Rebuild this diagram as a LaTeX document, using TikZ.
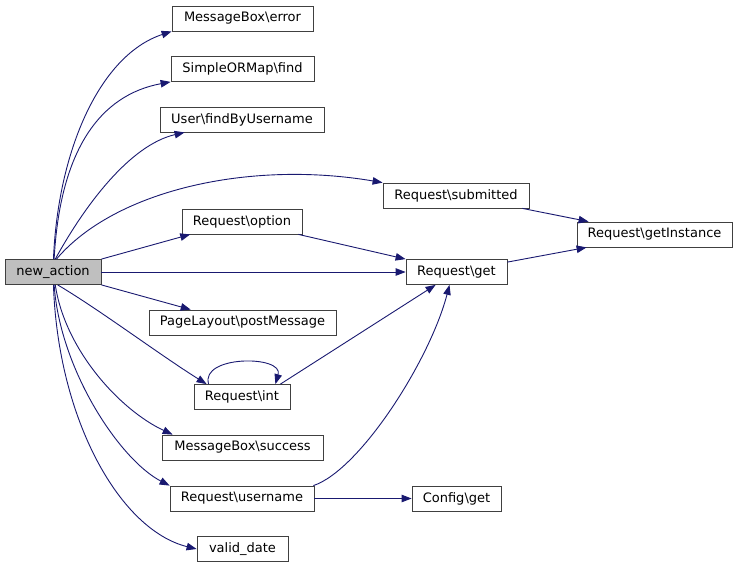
\documentclass[tikz,border=0pt]{standalone}
\usepackage{fontspec}
\setmainfont{DejaVu Sans}
\usetikzlibrary{arrows.meta}

\definecolor{callblue}{HTML}{191970}
\tikzset{
  fn/.style={draw=black!75, line width=0.8pt, fill=white, minimum height=25pt,
    inner sep=0pt, font=\fontsize{13}{15}\selectfont},
  cur/.style={fn, fill=black!25},
  call/.style={draw=callblue, line width=0.9pt,
    -{Triangle[length=10pt,width=7.5pt]}}
}

\begin{document}
\begin{tikzpicture}[x=1pt,y=-1pt]
\useasboundingbox (0,0) rectangle (737,568);
% functions
\node[cur, minimum width=96pt]  (newaction) at (53,272)    {new\_action};
\node[fn, minimum width=141pt]  (msgerror)  at (242.5,18.5) {MessageBox\textbackslash{}error};
\node[fn, minimum width=143pt]  (ormfind)   at (242.5,69)   {SimpleORMap\textbackslash{}find};
\node[fn, minimum width=164pt]  (finduser)  at (242,119.5)  {User\textbackslash{}findByUsername};
\node[fn, minimum width=146pt]  (submitted) at (456,195.5)  {Request\textbackslash{}submitted};
\node[fn, minimum width=120pt]  (option)    at (242,221.5)  {Request\textbackslash{}option};
\node[fn, minimum width=155pt]  (getinst)   at (654.5,234.5) {Request\textbackslash{}getInstance};
\node[fn, minimum width=101pt]  (get)       at (456.5,272)  {Request\textbackslash{}get};
\node[fn, minimum width=187pt]  (postmsg)   at (242.5,322.5) {PageLayout\textbackslash{}postMessage};
\node[fn, minimum width=96pt]   (int)       at (242,397)    {Request\textbackslash{}int};
\node[fn, minimum width=161pt]  (success)   at (242.5,447.5) {MessageBox\textbackslash{}success};
\node[fn, minimum width=144pt]  (username)  at (242,498.5)  {Request\textbackslash{}username};
\node[fn, minimum width=89pt]   (confget)   at (456.5,498.5) {Config\textbackslash{}get};
\node[fn, minimum width=91pt]   (validdate) at (242.5,549)  {valid\_date};

% calls
\draw[call] (newaction.88) .. controls (58,150) and (100,55) .. (msgerror.south west);
\draw[call] (newaction.85) .. controls (60,150) and (100,95) .. (ormfind.south west);
\draw[call] (newaction.80) .. controls (85,205) and (130,145) .. ([xshift=25pt]finduser.south west);
\draw[call] (newaction.75) .. controls (115,190) and (250,160) .. (submitted.north west);
\draw[call] (newaction.north east) -- (option.194);
\draw[call] (newaction.east) -- (get.west);
\draw[call] ([xshift=-4pt]option.south east) -- (get.north west);
\draw[call] (newaction.south east) -- (postmsg.166);
\draw[call] (newaction.-70) .. controls (100,310) and (160,355) .. ([xshift=13pt]int.north west);
\draw[call] ([xshift=15pt]int.north west) .. controls (200,355) and (284,355) .. ([xshift=-15pt]int.north east);
\draw[call] ([xshift=-10pt]int.north east) -- ([xshift=30pt]get.south west);
\draw[call] (newaction.-80) .. controls (65,350) and (120,410) .. ([xshift=11pt]success.north west);
\draw[call] (newaction.-85) .. controls (60,370) and (120,460) .. (username.north west);
\draw[call] (newaction.-88) .. controls (58,420) and (120,530) .. (validdate.west);
\draw[call] ([xshift=-1pt]username.north east) .. controls (360,470) and (430,360) .. ([xshift=-7pt]get.south);
\draw[call] (username.east) -- (confget.west);
\draw[call] ([xshift=-7pt]submitted.south east) -- ([xshift=12pt]getinst.north west);
\draw[call] ([yshift=-3pt]get.north east) -- ([xshift=10pt]getinst.south west);
\end{tikzpicture}
\end{document}
